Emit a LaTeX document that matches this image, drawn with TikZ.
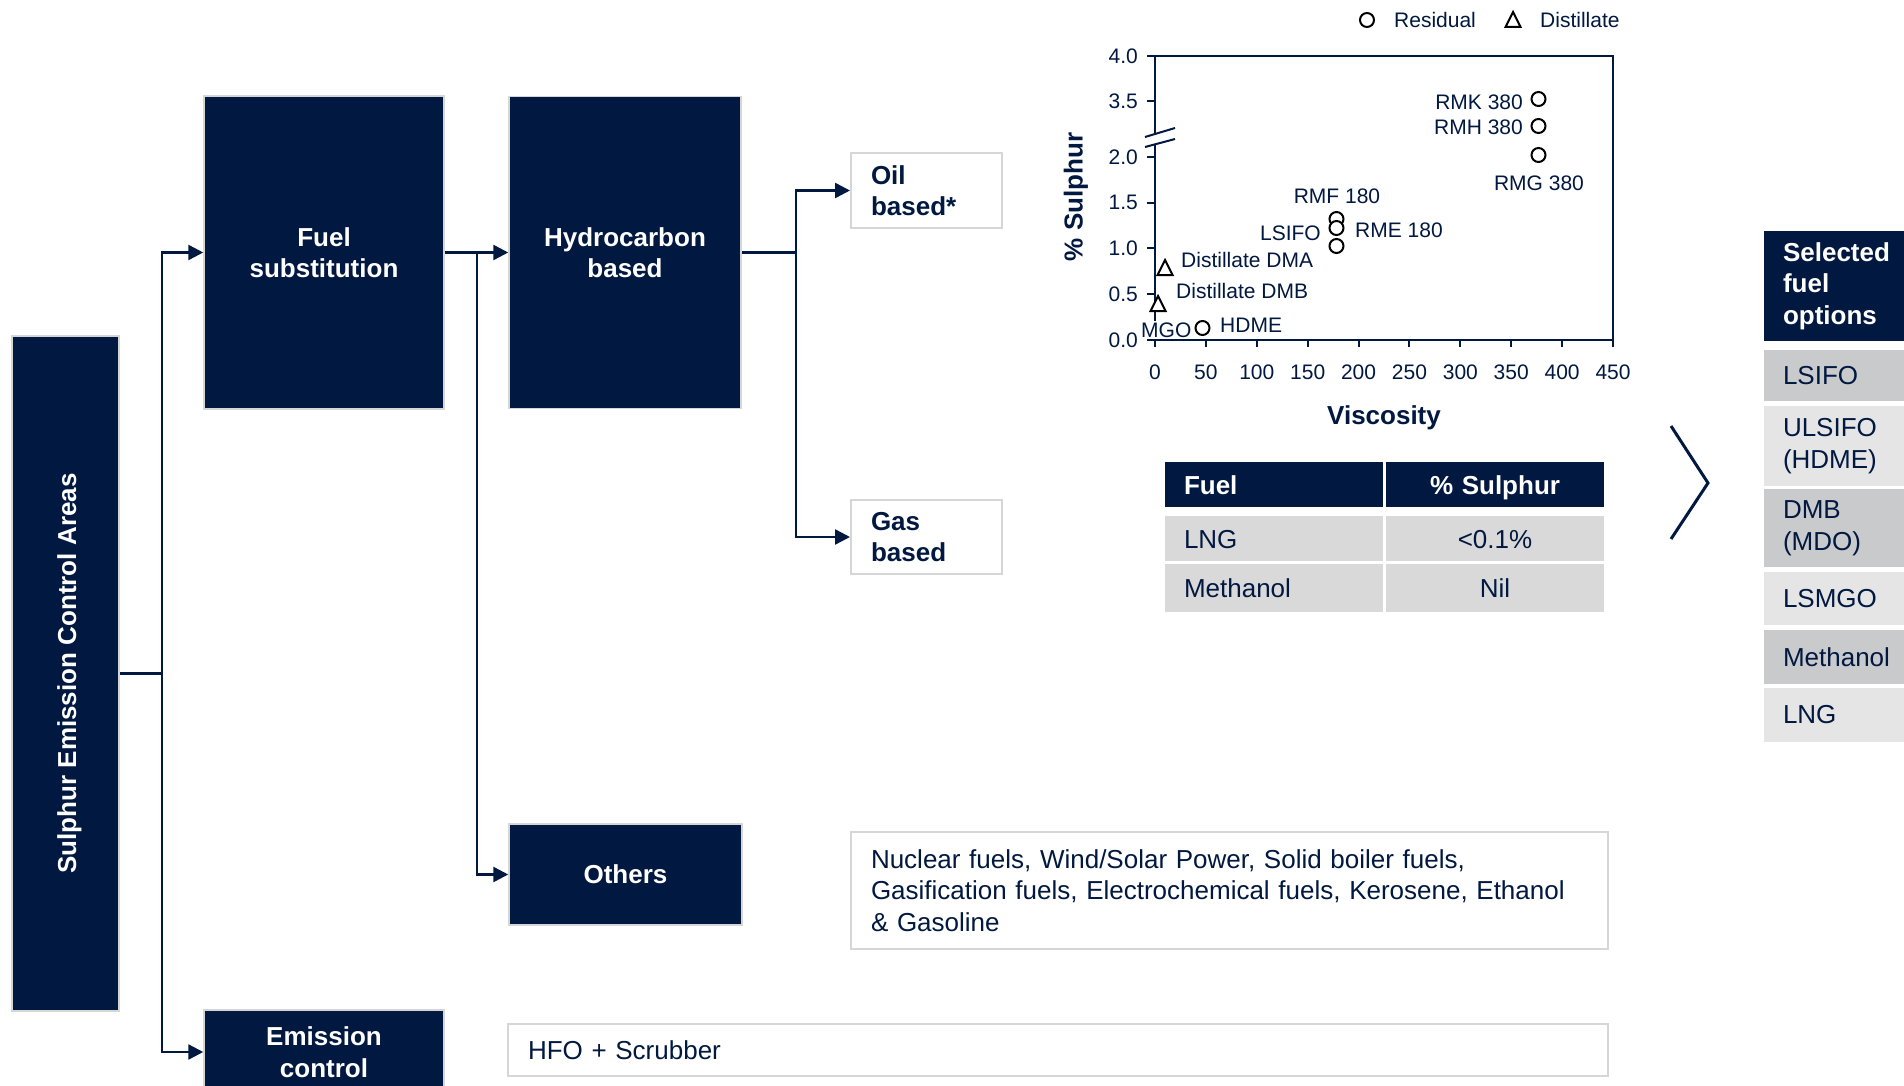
\documentclass[tikz,border=0pt]{standalone}
\usepackage{fontspec}
\setmainfont{Liberation Sans}
\usetikzlibrary{arrows.meta}
\definecolor{navy}{HTML}{011840}
\definecolor{midgray}{HTML}{C9CACC}
\definecolor{lightgray}{HTML}{E5E5E5}
\definecolor{cellgray}{HTML}{D9D9D9}
\definecolor{edgegray}{HTML}{D6D6D6}
\newcommand{\fsA}{\fontsize{26}{31.5}\selectfont}
\newcommand{\fsB}{\fontsize{21}{25}\selectfont}
\begin{document}
\begin{tikzpicture}[x=1pt,y=-1pt,
  navybox/.style={fill=navy, draw=edgegray, line width=1.5pt, text=white, font=\fsA\bfseries, align=center, inner sep=0pt},
  whitebox/.style={fill=white, draw=edgegray, line width=2pt, text=navy, font=\fsA, inner xsep=20pt, inner ysep=0pt, align=left},
  conn/.style={draw=navy, line width=2.5pt},
  arr/.style={conn, -{Triangle[length=15pt,width=15pt]}},
  hcell/.style={fill=navy, text=white, font=\fsA\bfseries, inner ysep=0pt, minimum height=45pt, text height=19pt, text depth=0pt},
  bcell/.style={fill=cellgray, text=navy, font=\fsA, inner ysep=0pt, text height=19pt, text depth=0pt},
  selrow/.style={text=navy, font=\fsA, inner xsep=19pt, inner ysep=0pt, text width=112pt, align=left},
  lbl/.style={text=navy, font=\fsB, inner sep=0pt},
  datamark/.style={draw=black, line width=2pt, fill=white},
  axisline/.style={draw=navy, line width=2pt}
]
\useasboundingbox (0,0) rectangle (1904,1086);
\clip (0,0) rectangle (1904,1086);
\fill[white] (0,0) rectangle (1904,1086);

% ---------- tree boxes ----------
\node[navybox, minimum width=107, minimum height=675] (seca) at (65.5,673.5) {};
\node[rotate=90, text=white, font=\fsA\bfseries] (secat) at (69.5,673.5) {Sulphur Emission Control Areas};

\node[navybox, minimum width=240, minimum height=313] (fuelsub) at (324,252.5) {Fuel\\substitution};
\node[navybox, minimum width=232, minimum height=312] (hydro) at (625,252.5) {Hydrocarbon\\based};
\node[navybox, minimum width=233, minimum height=101] (others) at (625.5,874.5) {Others};
\node[navybox, minimum width=240, minimum height=84] (emis) at (324,1052) {Emission\\control};

\node[whitebox, font=\fsA\bfseries, text width=111, minimum height=75] (oil) at (926.5,190.5) {Oil\\based*};
\node[whitebox, font=\fsA\bfseries, text width=111, minimum height=74] (gas) at (926.5,537) {Gas\\based};

\node[whitebox, text width=717, minimum height=117] (othdesc) at (1229.5,890.5)
  {Nuclear fuels, Wind/Solar Power, Solid boiler fuels,\\Gasification fuels, Electrochemical fuels, Kerosene, Ethanol\\\& Gasoline};
\node[whitebox, text width=1060, minimum height=52] (hfo) at (1058,1050) {HFO + Scrubber};

% ---------- connectors ----------
\coordinate (j1) at (162,673.5);
\coordinate (j2) at (477,252.5);
\coordinate (j3) at (796,252.5);
\draw[conn] (seca.east) -- (j1);
\draw[arr] (j1) |- (fuelsub.west);
\draw[arr] (j1) |- (emis.west);
\draw[arr] (fuelsub.east) -- (hydro.west);
\draw[arr] (j2) |- (others.west);
\draw[conn] (hydro.east) -- (j3);
\draw[arr] (j3) |- (oil.west);
\draw[arr] (j3) |- (gas.west);

% ---------- chart ----------
% legend
\draw[datamark] (1367,20) circle (7);
\node[lbl, anchor=west] (legres) at (1394,20) {Residual};
\draw[datamark] (1505.5,27) -- (1513,12) -- (1520.5,27) -- cycle;
\node[lbl, anchor=west] (legdis) at (1540,20) {Distillate};

% frame
\draw[axisline] (1155,133) -- (1155,56) -- (1613,56) -- (1613,340) -- (1155,340) -- (1155,144);
\draw[navy, line width=2pt] (1145,137) -- (1175,128);
\draw[navy, line width=2pt] (1145,147) -- (1175,139);

% y ticks
\foreach \yy/\lab in {56/4.0, 101/3.5, 157/2.0, 202.75/1.5, 248.5/1.0, 294.25/0.5, 340/0.0}{
  \draw[axisline] (1147,\yy) -- (1155,\yy);
  \node[lbl, anchor=east] at (1138,\yy) {\lab};
}
% x ticks
\foreach \i in {0,...,9}{
  \pgfmathsetmacro{\xx}{1155+\i*50.89}
  \pgfmathtruncatemacro{\val}{\i*50}
  \draw[axisline] (\xx,340) -- (\xx,347);
  \node[lbl] at (\xx,372) {\val};
}
\node[rotate=90, text=navy, font=\fsA\bfseries] (ylab) at (1076,197) {\% Sulphur};
\node[text=navy, font=\fsA\bfseries] (xlab) at (1384,418) {Viscosity};

% data markers
\draw[datamark] (1538.5,99) circle (7);
\draw[datamark] (1538.5,126) circle (7);
\draw[datamark] (1538.5,155) circle (7);
\draw[datamark] (1336.5,219) circle (7);
\draw[datamark] (1336.5,228) circle (7);
\draw[datamark] (1336.5,246) circle (7);
\draw[datamark] (1202.5,328) circle (7);
\draw[datamark] (1157.5,275) -- (1165,260) -- (1172.5,275) -- cycle;
\draw[datamark] (1150.5,311) -- (1158,296) -- (1165.5,311) -- cycle;

% data labels
\node[lbl, anchor=east] (lrmk) at (1523,102) {RMK 380};
\node[lbl, anchor=east] (lrmh) at (1523,127) {RMH 380};
\node[lbl] (lrmg) at (1539,183) {RMG 380};
\node[lbl] (lrmf) at (1337,196) {RMF 180};
\node[lbl, anchor=east] (llsifo) at (1321,233) {LSIFO};
\node[lbl, anchor=west] (lrme) at (1355,230) {RME 180};
\node[lbl, anchor=west] (ldma) at (1181,260) {Distillate DMA};
\node[lbl, anchor=west] (ldmb) at (1176,291) {Distillate DMB};
\node[lbl, anchor=west, fill=white, inner sep=2pt] (lmgo) at (1139,330) {MGO};
\node[lbl, anchor=west] (lhdme) at (1220,325) {HDME};

% ---------- sulphur table ----------
\node[hcell, minimum width=218, text width=180, inner xsep=19, align=left] (th1) at (1274,484.5) {Fuel};
\node[hcell, minimum width=218, text width=180, inner xsep=19, align=center] (th2) at (1495,484.5) {\% Sulphur};
\node[bcell, minimum height=45, text width=180, inner xsep=19, align=left] (t11) at (1274,538.5) {LNG};
\node[bcell, minimum height=45, text width=180, inner xsep=19, align=center] (t12) at (1495,538.5) {<0.1\%};
\node[bcell, minimum height=48, text width=180, inner xsep=19, align=left] (t21) at (1274,588) {Methanol};
\node[bcell, minimum height=48, text width=180, inner xsep=19, align=center] (t22) at (1495,588) {Nil};

% ---------- chevron ----------
\draw[navy, line width=3pt] (1671,426) -- (1708,483) -- (1671,539);

% ---------- selected fuel options ----------
\node[selrow, fill=navy, text=white, font=\fsA\bfseries, minimum height=110] (selh) at (1839,286) {Selected\\fuel\\options};
\node[selrow, fill=midgray, minimum height=51] (s1) at (1839,375.5) {LSIFO};
\node[selrow, fill=lightgray, minimum height=80] (s2) at (1839,446) {ULSIFO\\(HDME)};
\node[selrow, fill=midgray, minimum height=78] (s3) at (1839,528) {DMB\\(MDO)};
\node[selrow, fill=lightgray, minimum height=53] (s4) at (1839,598.5) {LSMGO};
\node[selrow, fill=midgray, minimum height=54] (s5) at (1839,657) {Methanol};
\node[selrow, fill=lightgray, minimum height=54] (s6) at (1839,715) {LNG};
\end{tikzpicture}
\end{document}
